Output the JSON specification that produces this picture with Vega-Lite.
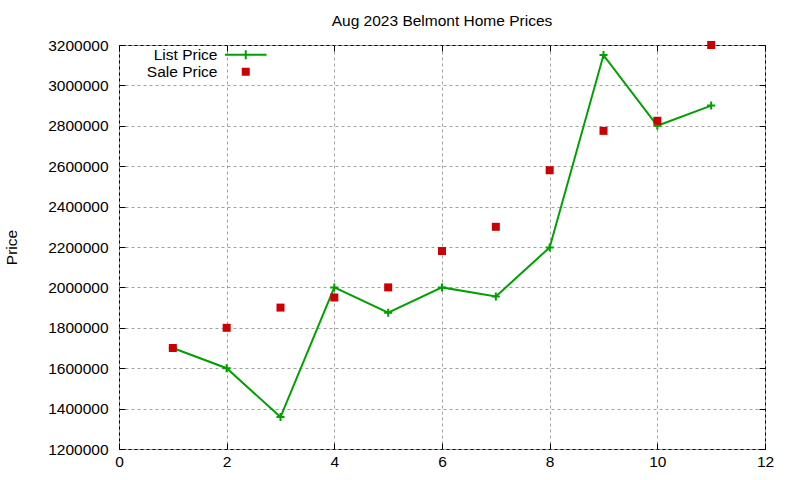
{
  "$schema": "https://vega.github.io/schema/vega-lite/v6.json",
  "autosize": {"type": "none"},
  "padding": {"left": 119, "top": 45, "right": 35, "bottom": 31},
  "width": 646,
  "height": 404,
  "background": "white",
  "title": {
    "text": "Aug 2023 Belmont Home Prices",
    "fontSize": 15.5,
    "fontWeight": "normal",
    "font": "Liberation Sans",
    "color": "black",
    "offset": 9
  },
  "config": {
    "font": "Liberation Sans",
    "view": {"stroke": "black", "strokeWidth": 1},
    "axis": {
      "labelFont": "Liberation Sans",
      "labelFontSize": 15.5,
      "labelColor": "black",
      "labelFlush": false,
      "titleFont": "Liberation Sans",
      "titleFontSize": 15.5,
      "titleFontWeight": "normal",
      "titleColor": "black",
      "domain": false,
      "tickColor": "black",
      "tickSize": -6,
      "tickWidth": 1,
      "gridColor": "#a0a0a0",
      "gridDash": [3, 3],
      "gridWidth": 1
    },
    "legend": {
      "labelFont": "Liberation Sans",
      "labelFontSize": 15.5,
      "labelColor": "black",
      "labelAlign": "right",
      "labelOffset": -36,
      "symbolSize": 64,
      "symbolOpacity": 1
    }
  },
  "data": {
    "values": [
      {"month": 1, "series": "List Price", "price": 1700000},
      {"month": 2, "series": "List Price", "price": 1600000},
      {"month": 3, "series": "List Price", "price": 1358000},
      {"month": 4, "series": "List Price", "price": 2000000},
      {"month": 5, "series": "List Price", "price": 1875000},
      {"month": 6, "series": "List Price", "price": 2000000},
      {"month": 7, "series": "List Price", "price": 1955000},
      {"month": 8, "series": "List Price", "price": 2198000},
      {"month": 9, "series": "List Price", "price": 3150000},
      {"month": 10, "series": "List Price", "price": 2800000},
      {"month": 11, "series": "List Price", "price": 2900000},
      {"month": 1, "series": "Sale Price", "price": 1700000},
      {"month": 2, "series": "Sale Price", "price": 1800000},
      {"month": 3, "series": "Sale Price", "price": 1900000},
      {"month": 4, "series": "Sale Price", "price": 1950000},
      {"month": 5, "series": "Sale Price", "price": 2000000},
      {"month": 6, "series": "Sale Price", "price": 2180000},
      {"month": 7, "series": "Sale Price", "price": 2300000},
      {"month": 8, "series": "Sale Price", "price": 2580000},
      {"month": 9, "series": "Sale Price", "price": 2775000},
      {"month": 10, "series": "Sale Price", "price": 2825000},
      {"month": 11, "series": "Sale Price", "price": 3200000}
    ]
  },
  "encoding": {
    "x": {
      "field": "month",
      "type": "quantitative",
      "scale": {"domain": [0, 12], "nice": false, "zero": false}
    },
    "y": {
      "field": "price",
      "type": "quantitative",
      "scale": {"domain": [1200000, 3200000], "nice": false, "zero": false}
    }
  },
  "layer": [
    {
      "transform": [{"filter": "datum.series === 'List Price'"}],
      "mark": {"type": "line", "strokeWidth": 2, "clip": true},
      "encoding": {
        "x": {"field": "month", "type": "quantitative", "axis": null},
        "y": {"field": "price", "type": "quantitative", "axis": null},
        "stroke": {
          "field": "series",
          "type": "nominal",
          "scale": {"domain": ["List Price"], "range": ["#00a000"]},
          "legend": {
            "title": null,
            "orient": "none",
            "legendX": 119,
            "legendY": 2,
            "symbolType": "M-5.2,0H5.2M0,-1.1V1.1",
            "symbolStrokeWidth": 2,
            "symbolFillColor": "transparent"
          }
        }
      }
    },
    {
      "transform": [{"filter": "datum.series === 'List Price'"}],
      "mark": {
        "type": "point",
        "shape": "M-1,0H1M0,-1V1",
        "size": 64,
        "filled": false,
        "stroke": "#00a000",
        "strokeWidth": 2,
        "opacity": 1
      },
      "encoding": {
        "x": {
          "field": "month",
          "type": "quantitative",
          "axis": {"values": [0, 2, 4, 6, 8, 10, 12], "title": null, "labelPadding": 11, "grid": true}
        },
        "y": {
          "field": "price",
          "type": "quantitative",
          "axis": {
            "values": [1200000, 1400000, 1600000, 1800000, 2000000, 2200000, 2400000, 2600000, 2800000, 3000000, 3200000],
            "format": "d",
            "title": "Price",
            "labelPadding": 17,
            "titlePadding": 28,
            "grid": true
          }
        }
      }
    },
    {
      "transform": [{"filter": "datum.series === 'Sale Price'"}],
      "mark": {"type": "square", "size": 64, "filled": true, "opacity": 1},
      "encoding": {
        "x": {
          "field": "month",
          "type": "quantitative",
          "axis": {"orient": "top", "values": [0, 2, 4, 6, 8, 10, 12], "labels": false, "title": null, "grid": false}
        },
        "y": {
          "field": "price",
          "type": "quantitative",
          "axis": {
            "orient": "right",
            "values": [1200000, 1400000, 1600000, 1800000, 2000000, 2200000, 2400000, 2600000, 2800000, 3000000, 3200000],
            "labels": false,
            "title": null,
            "grid": false
          }
        },
        "fill": {
          "field": "series",
          "type": "nominal",
          "scale": {"domain": ["Sale Price"], "range": ["#cc0000"]},
          "legend": {
            "title": null,
            "orient": "none",
            "legendX": 119,
            "legendY": 19,
            "symbolType": "square",
            "symbolStrokeWidth": 0
          }
        }
      }
    }
  ],
  "resolve": {"axis": {"x": "independent", "y": "independent"}}
}
